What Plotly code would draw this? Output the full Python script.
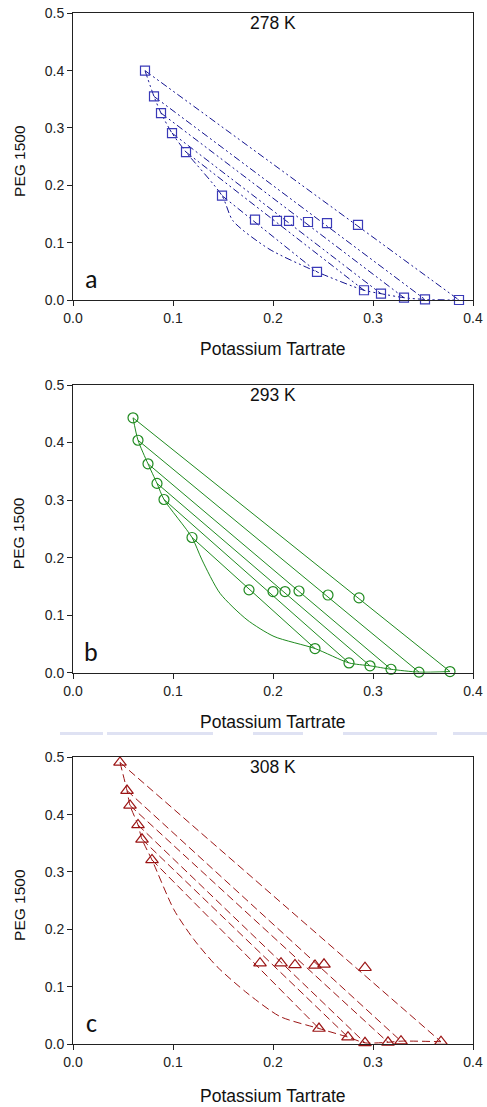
import plotly.graph_objects as go

# ---------------- data ----------------
# 278 K
top_x_278 = [0.072, 0.081, 0.088, 0.099, 0.113, 0.149]
top_y_278 = [0.400, 0.355, 0.326, 0.291, 0.258, 0.182]
feed_x_278 = [0.285, 0.254, 0.235, 0.216, 0.204, 0.182]
feed_y_278 = [0.131, 0.134, 0.136, 0.138, 0.138, 0.140]
bot_x_278 = [0.386, 0.352, 0.331, 0.308, 0.291, 0.244]
bot_y_278 = [0.000, 0.001, 0.004, 0.011, 0.017, 0.049]
# binodal curve points read between the two phases
curve_x_278 = [0.160, 0.196]
curve_y_278 = [0.138, 0.089]

# 293 K
top_x_293 = [0.060, 0.065, 0.075, 0.084, 0.091, 0.119]
top_y_293 = [0.443, 0.404, 0.363, 0.329, 0.301, 0.235]
feed_x_293 = [0.286, 0.255, 0.226, 0.212, 0.200, 0.176]
feed_y_293 = [0.130, 0.135, 0.142, 0.141, 0.141, 0.144]
bot_x_293 = [0.377, 0.346, 0.318, 0.297, 0.276, 0.242]
bot_y_293 = [0.002, 0.001, 0.006, 0.012, 0.017, 0.042]
curve_x_293 = [0.129, 0.147, 0.174, 0.201]
curve_y_293 = [0.196, 0.138, 0.092, 0.063]

# 308 K
top_x_308 = [0.047, 0.054, 0.057, 0.065, 0.069, 0.079]
top_y_308 = [0.491, 0.442, 0.416, 0.382, 0.357, 0.321]
feed_x_308 = [0.292, 0.251, 0.242, 0.222, 0.208, 0.187]
feed_y_308 = [0.133, 0.139, 0.137, 0.138, 0.141, 0.141]
bot_x_308 = [0.368, 0.328, 0.315, 0.292, 0.275, 0.246]
bot_y_308 = [0.004, 0.005, 0.003, 0.002, 0.012, 0.027]
curve_x_308 = [0.101, 0.121, 0.144, 0.174, 0.207]
curve_y_308 = [0.234, 0.182, 0.135, 0.089, 0.048]

x_ticks = [0.0, 0.1, 0.2, 0.3, 0.4]
y_ticks = [0.0, 0.1, 0.2, 0.3, 0.4, 0.5]
temps = ["278 K", "293 K", "308 K"]
panel_labels = ["a", "b", "c"]
x_title = "Potassium Tartrate"
y_title = "PEG 1500"

# ---------------- styling ----------------
FONT = "Liberation Sans, Arial, sans-serif"
AX = "#222222"
W, H = 487, 1107
ML, MR, MT, MB = 73, 14, 13, 63
PH = H - MT - MB

def py(px):  # pixel row -> paper fraction
    return (H - MB - px) / PH

def pxx(px):  # pixel col -> paper fraction
    return (px - ML) / (W - ML - MR)

panels = [
    dict(top=(top_x_278, top_y_278), feed=(feed_x_278, feed_y_278), bot=(bot_x_278, bot_y_278),
         curve=(curve_x_278, curve_y_278),
         line="#12128f", mk="#3a3ab8", symbol="square-open", msize=9,
         dash="7px,3px,2px,3px,2px,3px", dom=(py(300), py(13.3)), xt=349.3),
    dict(top=(top_x_293, top_y_293), feed=(feed_x_293, feed_y_293), bot=(bot_x_293, bot_y_293),
         curve=(curve_x_293, curve_y_293),
         line="#1f8a1f", mk="#1f8a1f", symbol="circle-open", msize=10,
         dash="solid", dom=(py(672.7), py(385)), xt=722.3),
    dict(top=(top_x_308, top_y_308), feed=(feed_x_308, feed_y_308), bot=(bot_x_308, bot_y_308),
         curve=(curve_x_308, curve_y_308),
         line="#9b1414", mk="#9b1414", symbol="triangle-up-open", msize=11,
         dash="8px,4px", dom=(0.0, py(757.3)), xt=1095.7),
]

fig = go.Figure()
layout = dict(width=W, height=H, margin=dict(l=ML, r=MR, t=MT, b=MB, pad=0, autoexpand=False),
              paper_bgcolor="white", plot_bgcolor="white", showlegend=False,
              font=dict(family=FONT, color=AX, size=14))
annotations = []

for i, p in enumerate(panels):
    n = "" if i == 0 else str(i + 1)
    xa, ya = "x" + n, "y" + n
    tx, ty = p["top"]
    fx, fy = p["feed"]
    bx, by = p["bot"]
    cx, cy = p["curve"]
    fig.add_trace(go.Scatter(
        x=list(tx) + list(cx) + list(bx)[::-1], y=list(ty) + list(cy) + list(by)[::-1],
        mode="lines", line=dict(color=p["line"], width=1, dash=p["dash"],
                                shape="spline", smoothing=0.7),
        xaxis=xa, yaxis=ya, cliponaxis=False, hoverinfo="skip"))
    for k in range(len(tx)):
        fig.add_trace(go.Scatter(
            x=[tx[k], bx[k]], y=[ty[k], by[k]], mode="lines",
            line=dict(color=p["line"], width=1, dash=p["dash"]),
            xaxis=xa, yaxis=ya, cliponaxis=False, hoverinfo="skip"))
    fig.add_trace(go.Scatter(
        x=list(tx) + list(fx) + list(bx), y=list(ty) + list(fy) + list(by),
        mode="markers",
        marker=dict(symbol=p["symbol"], size=p["msize"], color=p["mk"],
                    line=dict(width=1.2, color=p["mk"])),
        xaxis=xa, yaxis=ya, cliponaxis=False))

    common = dict(showline=True, linecolor=AX, linewidth=1, mirror=True,
                  ticks="outside", ticklen=5, tickcolor=AX, tickwidth=1,
                  showgrid=False, zeroline=False, tickformat=".1f", automargin=False,
                  tickfont=dict(size=14, color=AX, family=FONT))
    layout["xaxis" + n] = dict(common, range=[0, 0.4], tickvals=x_ticks,
                               domain=[0, 1], anchor=ya)
    layout["yaxis" + n] = dict(common, range=[0, 0.5], tickvals=y_ticks,
                               domain=list(p["dom"]), anchor=xa)

    annotations.append(dict(text=temps[i], xref=xa + " domain", yref=ya + " domain",
                            x=0.5, y=1 - 10 / 287, xanchor="center", yanchor="middle",
                            showarrow=False, font=dict(size=17.5, color="#111", family=FONT)))
    annotations.append(dict(text=panel_labels[i], xref=xa + " domain", yref=ya + " domain",
                            x=0.045, y=0.073, xanchor="center", yanchor="middle",
                            showarrow=False, font=dict(size=26, color="#111",
                                                        family="Carlito, Lato, " + FONT)))
    annotations.append(dict(text=x_title, xref="paper", yref="paper",
                            x=0.5, y=py(p["xt"]), xanchor="center", yanchor="middle",
                            showarrow=False, font=dict(size=17.5, color="#111", family=FONT)))
    ymid = (p["dom"][0] + p["dom"][1]) / 2
    annotations.append(dict(text=y_title, xref="paper", yref="paper",
                            x=pxx(19.3), y=ymid - 4 / PH, xanchor="center", yanchor="middle",
                            textangle=-90, showarrow=False,
                            font=dict(size=15.5, color="#111", family=FONT)))

shapes = []
for a, b in [(60, 103), (107, 213), (253, 303), (343, 437), (453, 487)]:
    shapes.append(dict(type="line", xref="paper", yref="paper",
                       x0=pxx(a), x1=pxx(b), y0=py(733.5), y1=py(733.5),
                       line=dict(color="#dfe2f3", width=3), layer="below"))

layout["annotations"] = annotations
layout["shapes"] = shapes
fig.update_layout(**layout)
fig.write_html("out.html", config={"responsive": False, "displayModeBar": False},
               post_script="document.body.style.margin='0px';"
                           "document.body.style.padding='0px';"
                           "document.body.style.overflow='hidden';")
